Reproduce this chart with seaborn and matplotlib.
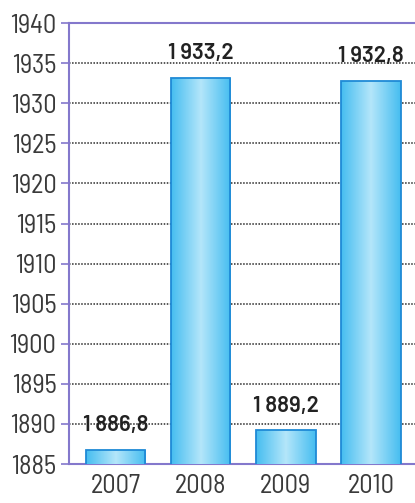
import numpy as np
import pandas as pd
import seaborn as sns
import matplotlib.pyplot as plt
from matplotlib.colors import LinearSegmentedColormap

years = ['2007', '2008', '2009', '2010']
values = [1886.8, 1933.2, 1889.2, 1932.8]
labels = ['1 886,8', '1 933,2', '1 889,2', '1 932,8']
yticks = list(range(1885, 1941, 5))

df = pd.DataFrame({'year': years, 'value': values})

sns.set_style('white')
plt.rcParams['font.family'] = ['Barlow Semi Condensed', 'DejaVu Sans']

fig = plt.figure(figsize=(4.15, 5.03), dpi=100)
ax = fig.add_axes([0.166, 0.0775, 0.834, 0.8765])

purple = '#8478cc'
sns.barplot(data=df, x='year', y='value', color='#7fd2f5', width=0.7,
            edgecolor='#1f8ad6', linewidth=1.3, ax=ax, zorder=3)

ax.set_ylim(1885, 1940)
ax.set_xlim(-0.55, 3.52)

# gradient fill inside bars
cmap = LinearSegmentedColormap.from_list('bar', ['#45bdf0', '#b4e6fa', '#45bdf0'])
grad = np.linspace(0, 1, 256).reshape(1, -1)
for p in ax.patches:
    x0, y0 = p.get_x(), 1885
    w, h = p.get_width(), p.get_y() + p.get_height()
    im = ax.imshow(grad, cmap=cmap, aspect='auto', zorder=3.5,
                   extent=[x0, x0 + w, y0, h])
    im.set_clip_path(p)
    p.set_zorder(4)
    p.set_facecolor('none')

for y in yticks[1:-1]:
    ax.axhline(y, color='#2a2a2a', linestyle=(0, (1.0, 1.0)), linewidth=1.1, zorder=2)

for i, (v, lab) in enumerate(zip(values, labels)):
    ax.text(i, v + 1.8, lab, ha='center', va='bottom', fontsize=16,
            fontweight='semibold', color='#222222', zorder=5,
            family=['Barlow', 'DejaVu Sans'])

ax.set_yticks(yticks)
ax.set_yticklabels([str(t) for t in yticks])
ax.tick_params(axis='y', length=6, width=1.2, color=purple, labelsize=19,
               labelcolor='#3a3a3a', pad=3, left=True)
ax.tick_params(axis='x', length=0, labelsize=19, labelcolor='#3a3a3a', pad=7)
ax.set_xlabel('')
ax.set_ylabel('')

for s in ['left', 'top', 'bottom']:
    ax.spines[s].set_color(purple)
    ax.spines[s].set_linewidth(1.5)
ax.spines['right'].set_visible(False)

fig.savefig('out.png', dpi=100)
